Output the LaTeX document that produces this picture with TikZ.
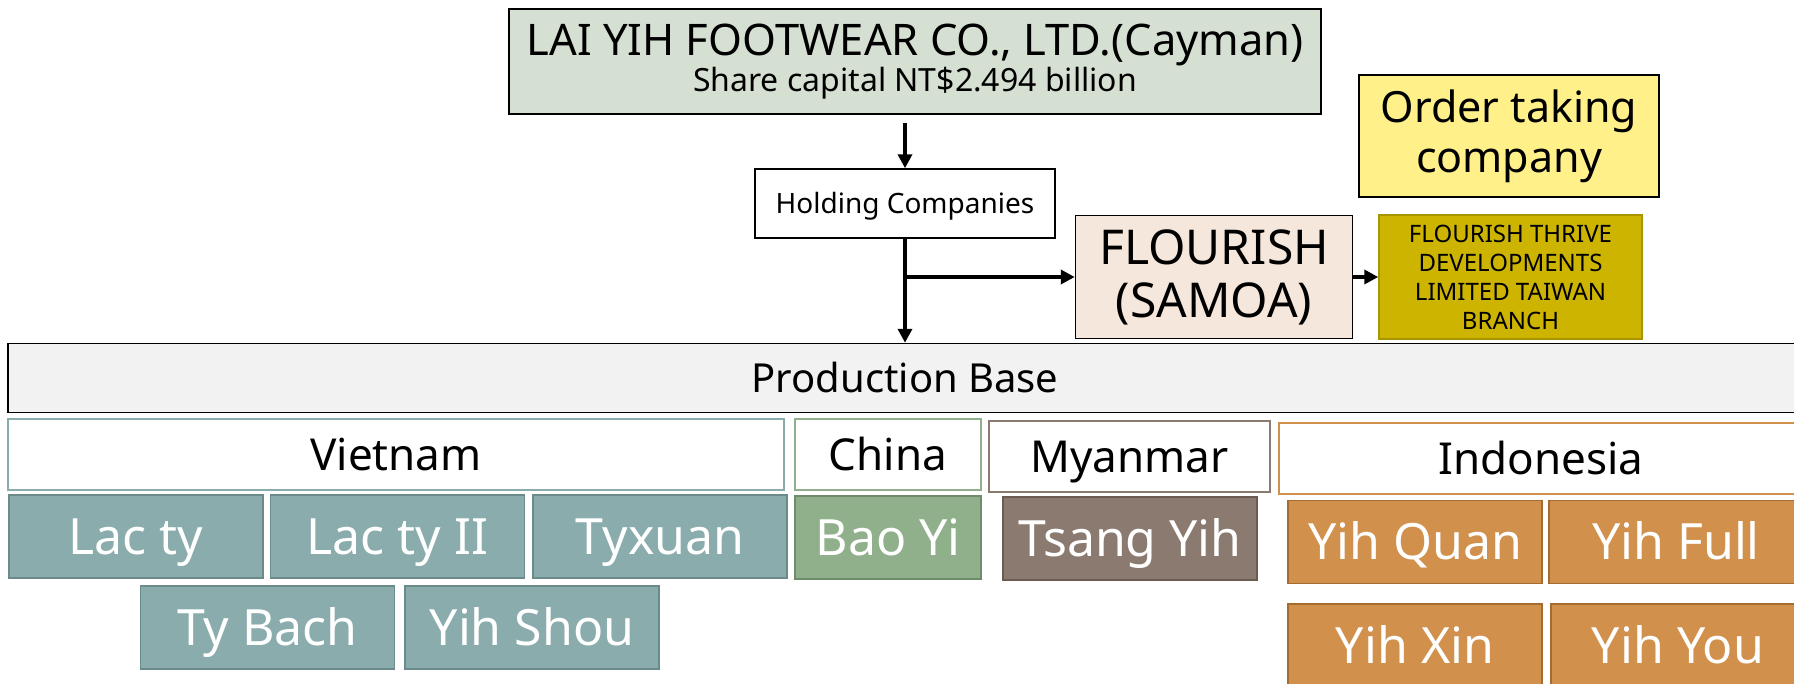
\documentclass[tikz,border=0pt]{standalone}
\usepackage{fontspec}
\setmainfont{Noto Sans}
\IfFontExistsTF{Noto Sans Light}
  {\newfontfamily\tilefont{Noto Sans Light}}
  {\newfontfamily\tilefont{Noto Sans}}
\usetikzlibrary{arrows.meta}
\definecolor{parentfill}{HTML}{D5E0D2}
\definecolor{samoafill}{HTML}{F5E7DC}
\definecolor{orderfill}{HTML}{FFF08A}
\definecolor{branchfill}{HTML}{CCB400}
\definecolor{branchline}{HTML}{A89400}
\definecolor{basefill}{HTML}{F2F2F2}
\definecolor{vnfill}{HTML}{8AACAC}
\definecolor{vnline}{HTML}{6B8A8A}
\definecolor{cnfill}{HTML}{8FB08B}
\definecolor{cnline}{HTML}{6E8C6B}
\definecolor{mmfill}{HTML}{8B7A6F}
\definecolor{mmline}{HTML}{6B5C52}
\definecolor{idfill}{HTML}{D1904B}
\definecolor{idline}{HTML}{A56C32}
\tikzset{
  box/.style={draw, line width=1.5pt, align=center, inner sep=0pt},
  land/.style={box, fill=white, minimum height=71pt, text height=31.4pt, text depth=0pt,
    font=\fontsize{44}{50}\selectfont},
  tile/.style={box, minimum width=254pt, minimum height=83pt, text=white,
    text height=35.7pt, text depth=0pt, font=\tilefont\fontsize{50}{56}\selectfont},
  link/.style={line width=4pt, -{Triangle[length=14pt,width=14pt]}},
}
\begin{document}
\begin{tikzpicture}[x=1pt, y=-1pt]
  \useasboundingbox (0,0) rectangle (1794,683);
  % upper part
  \node[box, fill=parentfill, minimum width=812pt, minimum height=105pt] (parent) at (915,61.5)
    {{\fontsize{43.5}{39}\selectfont LAI YIH FOOTWEAR CO., LTD.(Cayman)}\\
     {\fontsize{32}{39}\selectfont Share capital NT\$2.494 billion}};
  \node[box, fill=white, minimum width=300pt, minimum height=69pt,
    text height=20pt, text depth=0pt, font=\fontsize{28}{30}\selectfont] (hold) at (905,203.5)
    {Holding Companies};
  \node[box, fill=samoafill, minimum width=277pt, minimum height=123pt,
    font=\fontsize{48}{51}\selectfont] (samoa) at (1214,277) {FLOURISH\\[2pt](SAMOA)};
  \node[box, fill=orderfill, minimum width=300pt, minimum height=122pt,
    font=\fontsize{43}{50}\selectfont] (order) at (1509,136) {Order taking\\company};
  \node[box, draw=branchline, fill=branchfill, minimum width=263pt, minimum height=124pt,
    font=\fontsize{24}{29}\selectfont] (branch) at (1510.5,277)
    {FLOURISH THRIVE\\DEVELOPMENTS\\LIMITED TAIWAN\\BRANCH};
  % production base
  \node[box, fill=basefill, minimum width=1794pt, minimum height=69pt,
    text height=28.6pt, text depth=0pt, font=\fontsize{40}{46}\selectfont] (base) at (905,378)
    {Production Base};
  \node[land, draw=vnfill, minimum width=776pt] (vietnam) at (396,454.5) {Vietnam};
  \node[land, draw=cnfill, minimum width=186pt] (china) at (888,454.5) {China};
  \node[land, draw=mmfill, minimum width=281pt] (myanmar) at (1129.5,456.5) {Myanmar};
  \node[land, draw=idfill, minimum width=524pt] (indonesia) at (1541,458.5) {Indonesia};
  % factories
  \node[tile, fill=vnfill, draw=vnline] (lacty) at (136,536.5) {Lac ty};
  \node[tile, fill=vnfill, draw=vnline] (lactytwo) at (397.5,536.5) {Lac ty II};
  \node[tile, fill=vnfill, draw=vnline] (tyxuan) at (660,536.5) {Tyxuan};
  \node[tile, fill=vnfill, draw=vnline] (tybach) at (267.5,627.5) {Ty Bach};
  \node[tile, fill=vnfill, draw=vnline] (yihshou) at (532,627.5) {Yih Shou};
  \node[tile, fill=cnfill, draw=cnline, minimum width=186pt] (baoyi) at (888,537.5) {Bao Yi};
  \node[tile, fill=mmfill, draw=mmline] (tsangyih) at (1130,538.5) {Tsang Yih};
  \node[tile, fill=idfill, draw=idline] (yihquan) at (1415,542) {Yih Quan};
  \node[tile, fill=idfill, draw=idline] (yihfull) at (1676,542) {Yih Full};
  \node[tile, fill=idfill, draw=idline] (yihxin) at (1415,645.5) {Yih Xin};
  \node[tile, fill=idfill, draw=idline] (yihyou) at (1678,645.5) {Yih You};
  % connectors
  \draw[link, shorten <=8pt] (parent.south -| hold.north) -- (hold.north);
  \draw[link] (hold.south) -- (hold.south |- base.north);
  \coordinate (fork) at (hold.south |- samoa.west);
  \draw[link] (fork) -- (samoa.west);
  \draw[link] (samoa.east) -- (branch.west);
\end{tikzpicture}
\end{document}
